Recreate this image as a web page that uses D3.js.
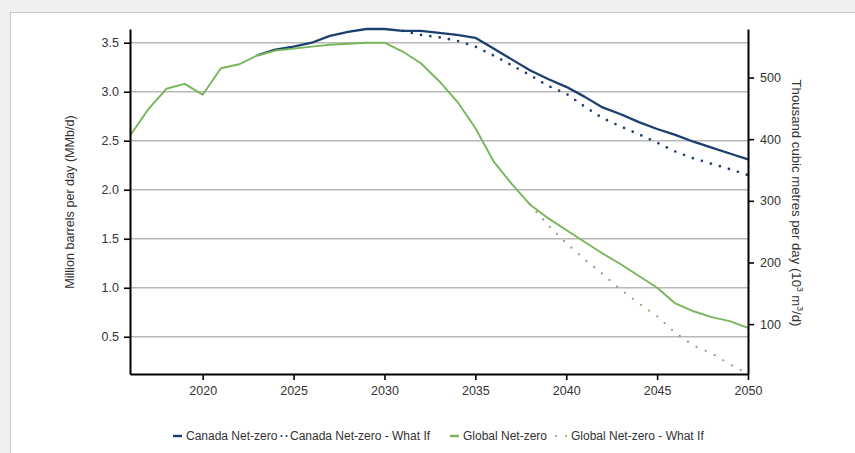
<!DOCTYPE html>
<html>
<head>
<meta charset="utf-8">
<script src="https://cdn.jsdelivr.net/npm/d3@7"></script>
<style>
  html, body { margin: 0; padding: 0; background: #f0f0f0; }
  svg { display: block; }
  text { font-family: "Liberation Sans", Arial, sans-serif; fill: #333; }
</style>
</head>
<body>
<svg id="chart" width="855" height="453"></svg>
<script>
// ---------------- data ----------------
const globalYears = d3.range(2016, 2051);
const globalNetZero = [2.55, 2.82, 3.03, 3.08, 2.97, 3.24, 3.28, 3.37, 3.42, 3.44,
  3.46, 3.48, 3.49, 3.50, 3.50, 3.41, 3.29, 3.11, 2.90, 2.63,
  2.29, 2.06, 1.85, 1.71, 1.59, 1.47, 1.35, 1.24, 1.12, 1.00,
  0.84, 0.76, 0.70, 0.66, 0.59];

const canadaYears = d3.range(2023, 2051);
const canadaNetZero = [3.37, 3.43, 3.46, 3.50, 3.57, 3.61, 3.64, 3.64, 3.62, 3.62,
  3.60, 3.58, 3.55, 3.44, 3.33, 3.22, 3.13, 3.05, 2.95, 2.84,
  2.77, 2.69, 2.62, 2.56, 2.49, 2.43, 2.37, 2.31];

const canadaWhatIfYears = d3.range(2031, 2051);
const canadaWhatIf = [3.62, 3.58, 3.555, 3.52, 3.46, 3.37, 3.27, 3.17, 3.06, 2.98,
  2.85, 2.73, 2.645, 2.565, 2.48, 2.39, 2.32, 2.265, 2.21, 2.15];

const globalWhatIfYears = d3.range(2038, 2051);
const globalWhatIf = [1.85, 1.64, 1.455, 1.29, 1.14, 0.98, 0.84, 0.71, 0.54, 0.41, 0.33, 0.22, 0.12];

const xTicks = [2020, 2025, 2030, 2035, 2040, 2045, 2050];
const leftTicks = [0.5, 1.0, 1.5, 2.0, 2.5, 3.0, 3.5];
const rightTicks = [100, 200, 300, 400, 500];
const M3_PER_BBL = 158.987; // thousand m3/d per MMb/d

const seriesNames = ["Canada Net-zero", "Canada Net-zero - What If", "Global Net-zero", "Global Net-zero - What If"];
const leftTitle = "Million barrels per day (MMb/d)";

// ---------------- layout ----------------
const svg = d3.select("#chart");
const L = 130, R = 748, T = 29, B = 374;
const BLUE = "#1b3f6e", GREEN = "#78b65a", GREEN_DOT = "#86a874";
const FONT = 12.5;

svg.append("rect").attr("x", 10.5).attr("y", 12.5).attr("width", 900).attr("height", 500)
  .attr("fill", "#fff").attr("stroke", "#c6c6ce").attr("stroke-width", 1);

const x = d3.scaleLinear().domain([2016, 2050]).range([L, R]);
const yDom = [0.12, 3.64];
const y = d3.scaleLinear().domain(yDom).range([B, T]);
const y2 = d3.scaleLinear().domain(yDom.map(v => v * M3_PER_BBL)).range([B, T]);

// gridlines
svg.append("g").selectAll("line").data(leftTicks).join("line")
  .attr("x1", L).attr("x2", R)
  .attr("y1", d => y(d)).attr("y2", d => y(d))
  .attr("stroke", "#b8b8b8").attr("stroke-width", 1.6);

// lines
const line = (yrs) => d3.line().x((d, i) => x(yrs[i])).y(d => y(d));

svg.append("path").datum(canadaNetZero).attr("d", line(canadaYears))
  .attr("fill", "none").attr("stroke", BLUE).attr("stroke-width", 2.3).attr("stroke-linejoin", "round");
svg.append("path").datum(canadaWhatIf).attr("d", line(canadaWhatIfYears))
  .attr("fill", "none").attr("stroke", BLUE).attr("stroke-width", 2.7)
  .attr("stroke-linecap", "round").attr("stroke-dasharray", "0,9.4");
svg.append("path").datum(globalNetZero).attr("d", line(globalYears))
  .attr("fill", "none").attr("stroke", GREEN).attr("stroke-width", 1.9).attr("stroke-linejoin", "round");
svg.append("path").datum(globalWhatIf).attr("d", line(globalWhatIfYears))
  .attr("fill", "none").attr("stroke", GREEN_DOT).attr("stroke-width", 2.3)
  .attr("stroke-linecap", "round").attr("stroke-dasharray", "0,10");

// axes
function styleAxis(g) {
  g.select(".domain").attr("stroke", "#000").attr("stroke-width", 2);
  g.selectAll(".tick line").attr("stroke", "#000").attr("stroke-width", 1.6);
  g.selectAll(".tick text").attr("font-size", FONT).attr("fill", "#333")
    .attr("font-family", '"Liberation Sans", Arial, sans-serif');
}
svg.append("g").attr("transform", `translate(${L},0)`)
  .call(d3.axisLeft(y).tickValues(leftTicks).tickFormat(d3.format(".1f")).tickSize(6).tickSizeOuter(0).tickPadding(5))
  .call(styleAxis);
svg.append("g").attr("transform", `translate(${R},0)`)
  .call(d3.axisRight(y2).tickValues(rightTicks).tickFormat(d3.format("d")).tickSize(6).tickSizeOuter(0).tickPadding(6))
  .call(styleAxis);
svg.append("g").attr("transform", `translate(0,${B})`)
  .call(d3.axisBottom(x).tickValues(xTicks).tickFormat(d3.format("d")).tickSize(6).tickSizeOuter(0).tickPadding(6))
  .call(styleAxis);

// axis titles
svg.append("text").attr("transform", "translate(74,202) rotate(-90)")
  .attr("text-anchor", "middle").attr("font-size", 12.6).text(leftTitle);

const rt = svg.append("text").attr("transform", "translate(792,203) rotate(90)")
  .attr("text-anchor", "middle").attr("font-size", 13.2);
rt.append("tspan").text("Thousand cubic metres per day (10");
rt.append("tspan").attr("dy", -5).attr("font-size", 8.5).text("3");
rt.append("tspan").attr("dy", 5).text(" m");
rt.append("tspan").attr("dy", -5).attr("font-size", 8.5).text("3");
rt.append("tspan").attr("dy", 5).text("/d)");

// legend
const ly = 436;
const legendItems = [
  { name: seriesNames[0], color: BLUE, dotted: false, sx: 173, tx: 186 },
  { name: seriesNames[1], color: BLUE, dotted: true, sx: 281.5, tx: 290 },
  { name: seriesNames[2], color: GREEN, dotted: false, sx: 450, tx: 463 },
  { name: seriesNames[3], color: GREEN_DOT, dotted: true, sx: 556, tx: 571 }
];
const lg = svg.append("g");
legendItems.forEach(it => {
  if (it.dotted) {
    const gap = it.color === BLUE ? 5 : 10;
    lg.append("g").selectAll("circle").data(d3.range(2)).join("circle")
      .attr("cx", i => it.sx + i * gap).attr("cy", ly).attr("r", 1.1).attr("fill", it.color);
  } else {
    lg.append("line").attr("x1", it.sx).attr("x2", it.sx + 9).attr("y1", ly).attr("y2", ly)
      .attr("stroke", it.color).attr("stroke-width", 2.4);
  }
  lg.append("text").attr("x", it.tx).attr("y", ly + 4.3).attr("font-size", 12).text(it.name);
});
</script>
</body>
</html>
